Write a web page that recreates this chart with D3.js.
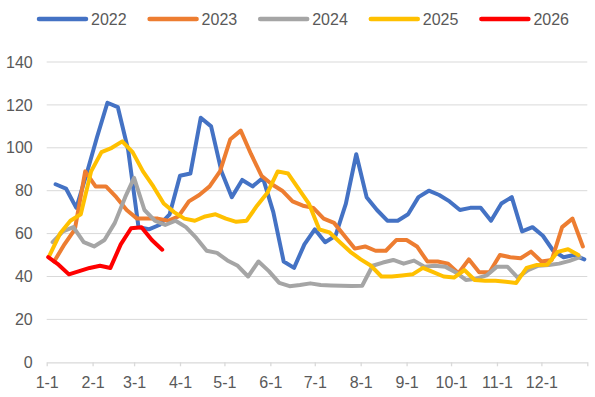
<!DOCTYPE html>
<html>
<head>
<meta charset="utf-8">
<script src="https://cdn.jsdelivr.net/npm/d3@7"></script>
<style>
  html, body { margin: 0; padding: 0; background: #ffffff; }
  svg { display: block; font-family: "Liberation Sans", Arial, sans-serif; }
</style>
</head>
<body>
<svg id="chart" width="595" height="397"></svg>
<script>
// ---------- data ----------
const years = ["2022", "2023", "2024", "2025", "2026"];
const seriesColors = ["#4472C4", "#ED7D31", "#A5A5A5", "#FFC000", "#FF0000"];
// first weekly reading (Friday) of each year
const firstDates = ["2022-01-07", "2023-01-06", "2024-01-05", "2025-01-03", "2026-01-02"];

const values2022 = [83, 81, 72, 88, 105, 121, 119, 99, 63, 62, 64, 69, 87, 88, 114, 110, 89, 77, 85, 82,
  86, 70, 47, 44, 55, 62, 56, 59, 74, 97, 77, 71, 66, 66, 69, 77, 80, 78, 75, 71,
  72, 72, 66, 74, 77, 61, 63, 59, 52, 49, 50, 48];
const values2023 = [47, 55, 62, 89, 82, 82, 77, 71, 67, 67, 67, 66, 68, 75, 78, 82, 89, 104, 108, 97,
  87, 83, 80, 75, 73, 72, 67, 65, 59, 53, 54, 52, 52, 57, 57, 54, 47, 47, 46, 41.5,
  48, 42, 42, 50, 49, 48.5, 51.6, 47, 47.7, 63, 67, 54];
const values2024 = [56, 61, 63, 56, 54, 57, 65, 77, 86, 71, 66, 64, 66, 63, 58, 52, 51, 47.5, 45, 40,
  47, 42.5, 37, 35.5, 36, 36.8, 36, 35.8, 35.7, 35.6, 35.7, 45, 46.5, 47.7, 46, 47.4, 44.6, 45, 44.6, 42,
  38.4, 39, 40.5, 44.6, 44.6, 39.5, 43, 45, 45.4, 46, 47.3, 49];
const values2025 = [50, 60, 66, 69, 89, 98, 100, 103, 98, 89, 82, 74, 70, 67, 66, 68, 69, 67, 65.5, 66,
  73, 79, 89, 88, 81, 74, 62, 60.5, 56, 51.5, 48, 45, 40, 40, 40.5, 41, 44, 42, 40, 39.5,
  43, 38.4, 38, 38, 37.5, 37, 44, 45.4, 45.5, 51.5, 52.7, 50];
const values2026 = [49, 45.5, 41, 42.5, 44, 45, 44, 55, 62.5, 63, 57, 52.5];

const yTicks = [0, 20, 40, 60, 80, 100, 120, 140];
const monthLabels = ["1-1", "2-1", "3-1", "4-1", "5-1", "6-1", "7-1", "8-1", "9-1", "10-1", "11-1", "12-1"];

// ---------- layout ----------
const W = 595, H = 397;
const margin = { left: 46.7, right: 7.7, top: 62, bottom: 34.7 };
const svg = d3.select("#chart");

const refYear = 2023; // common (non-leap) year used for the month-day axis
const x = d3.scaleTime()
  .domain([new Date(refYear, 0, 1), new Date(refYear + 1, 0, 1)])
  .range([margin.left, W - margin.right]);
const y = d3.scaleLinear()
  .domain([0, 140])
  .range([H - margin.bottom, margin.top]);

const allValues = [values2022, values2023, values2024, values2025, values2026];
const parse = d3.timeParse("%Y-%m-%d");
const series = years.map((yr, i) => {
  const start = parse(firstDates[i]);
  return {
    year: yr,
    color: seriesColors[i],
    points: allValues[i].map((v, k) => {
      const d = d3.timeDay.offset(start, 7 * k);
      return { date: new Date(refYear, d.getMonth(), d.getDate()), value: v };
    })
  };
});

// gridlines
svg.append("g")
  .selectAll("line")
  .data(yTicks.filter(t => t > 0))
  .join("line")
  .attr("x1", x.range()[0]).attr("x2", x.range()[1])
  .attr("y1", d => y(d)).attr("y2", d => y(d))
  .attr("stroke", "#d9d9d9").attr("stroke-width", 1);

// y axis labels
const yAxis = d3.axisLeft(y).tickValues(yTicks).tickSize(0).tickPadding(14);
const gy = svg.append("g").attr("transform", `translate(${margin.left},0)`).call(yAxis);
gy.select(".domain").remove();
gy.selectAll("text").attr("fill", "#595959").style("font-size", "16px")
  .style("font-family", "'Liberation Sans', Arial, sans-serif");

// x axis
const monthTicks = d3.timeMonth.range(new Date(refYear, 0, 1), new Date(refYear + 1, 0, 1));
const tickVals = monthTicks.concat([new Date(refYear + 1, 0, 1)]);
const xAxis = d3.axisBottom(x)
  .tickValues(tickVals)
  .tickSize(4)
  .tickSizeOuter(0)
  .tickPadding(10)
  .tickFormat((d, i) => i < monthLabels.length ? monthLabels[i] : "");
const gx = svg.append("g").attr("transform", `translate(0,${y(0)})`).call(xAxis);
gx.select(".domain").attr("stroke", "#d9d9d9").attr("stroke-width", 1.3);
gx.selectAll(".tick line").attr("stroke", "#d9d9d9").attr("stroke-width", 1.3);
gx.selectAll("text").attr("fill", "#595959").style("font-size", "16px")
  .style("font-family", "'Liberation Sans', Arial, sans-serif");

// lines
const line = d3.line().x(d => x(d.date)).y(d => y(d.value));
svg.append("g")
  .selectAll("path")
  .data(series)
  .join("path")
  .attr("d", d => line(d.points))
  .attr("fill", "none")
  .attr("stroke", d => d.color)
  .attr("stroke-width", 4)
  .attr("stroke-linejoin", "round")
  .attr("stroke-linecap", "round");

// legend
const legend = svg.append("g");
let lx = 37;
const ly = 19;
series.forEach(s => {
  legend.append("line")
    .attr("x1", lx + 2).attr("x2", lx + 49)
    .attr("y1", ly).attr("y2", ly)
    .attr("stroke", s.color).attr("stroke-width", 4.5).attr("stroke-linecap", "round");
  const t = legend.append("text")
    .attr("x", lx + 54).attr("y", ly + 6)
    .attr("fill", "#595959")
    .style("font-size", "16px")
    .style("font-family", "'Liberation Sans', Arial, sans-serif")
    .text(s.year);
  lx += 54 + t.node().getComputedTextLength() + 21;
});
</script>
</body>
</html>
